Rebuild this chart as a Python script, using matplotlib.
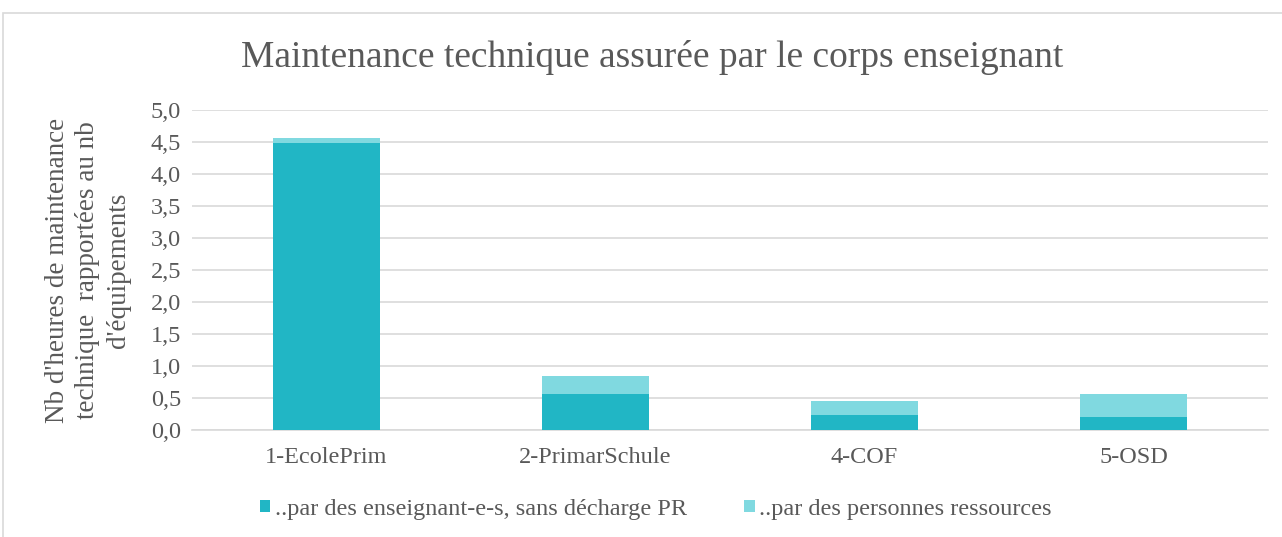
"""Maintenance technique assurée par le corps enseignant - stacked bars."""

import matplotlib

matplotlib.use("Agg")
import matplotlib.pyplot as plt
from matplotlib.patches import Rectangle
from matplotlib.ticker import FuncFormatter, MultipleLocator

categories = ["1-EcolePrim", "2-PrimarSchule", "4-COF", "5-OSD"]
enseignants = [4.49, 0.56, 0.24, 0.21]
personnes_ressources = [0.08, 0.28, 0.22, 0.35]
series_labels = ["..par des enseignant-e-s, sans décharge PR", "..par des personnes ressources"]

DARK = "#21B6C5"
LIGHT = "#80D9E0"
GRID = "#D9D9D9"
TEXT = "#595959"

plt.rcParams["font.family"] = ["Liberation Serif", "DejaVu Serif"]

fig = plt.figure(figsize=(12.82, 5.37), dpi=100)
ax = fig.add_axes([192 / 1282, 1 - 430 / 537, (1268 - 192) / 1282, 320 / 537])

x = range(len(categories))
ax.bar(x, enseignants, width=0.4, color=DARK, label=series_labels[0], zorder=3)
ax.bar(x, personnes_ressources, width=0.4, bottom=enseignants, color=LIGHT,
       label=series_labels[1], zorder=3)

ax.set_xlim(-0.5, len(categories) - 0.5)
ax.set_ylim(0, 5)
ax.yaxis.set_major_locator(MultipleLocator(0.5))
ax.yaxis.set_major_formatter(FuncFormatter(lambda v, _: f"{v:.1f}".replace(".", ",")))
ax.set_xticks(list(x))
ax.set_xticklabels(categories)
ax.tick_params(axis="both", length=0, labelsize=17.5, colors=TEXT, pad=8)
ax.tick_params(axis="x", pad=12)
ax.grid(axis="y", color=GRID, linewidth=1.2, zorder=0)
for side in ["top", "right", "left"]:
    ax.spines[side].set_visible(False)
ax.spines["bottom"].set_color(GRID)
ax.spines["bottom"].set_linewidth(1.2)

ax.set_ylabel("Nb d'heures de maintenance\ntechnique  rapportées au nb\nd'équipements",
              fontsize=19.5, color=TEXT, linespacing=1.3, labelpad=14)

fig.text(652 / 1282, 1 - 57 / 537, "Maintenance technique assurée par le corps enseignant",
         ha="center", va="center", fontsize=27, color=TEXT)

fig.legend(loc="center", bbox_to_anchor=(656 / 1282, 1 - 509 / 537), ncol=2, frameon=False,
           fontsize=17.5, labelcolor=TEXT, handlelength=0.42, handleheight=0.42,
           handletextpad=0.2, columnspacing=2.35)

fig.patches.append(Rectangle((3 / 1282, -0.1), 1.2, 1 - 13 / 537 + 0.1, transform=fig.transFigure,
                             fill=False, edgecolor=GRID, linewidth=1.2))

fig.savefig("out.png", dpi=100)
